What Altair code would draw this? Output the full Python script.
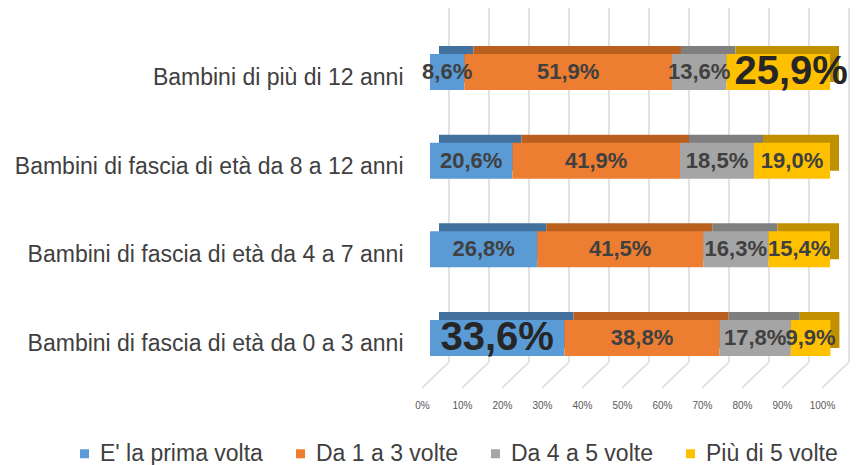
import altair as alt
import pandas as pd

groups = [
    "Bambini di più di 12 anni",
    "Bambini di fascia di età da 8 a 12 anni",
    "Bambini di fascia di età da 4 a 7 anni",
    "Bambini di fascia di età da 0 a 3 anni",
]
series = ["E' la prima volta", "Da 1 a 3 volte", "Da 4 a 5 volte", "Più di 5 volte"]
prima = [8.6, 20.6, 26.8, 33.6]
da1a3 = [51.9, 41.9, 41.5, 38.8]
da4a5 = [13.6, 18.5, 16.3, 17.8]
piu5 = [25.9, 19.0, 15.4, 9.9]
highlight_prima = [False, False, False, True]
highlight_piu5 = [True, False, False, False]
ticks = [0, 10, 20, 30, 40, 50, 60, 70, 80, 90, 100]

front_colors = ["#5B9BD5", "#ED7D31", "#A5A5A5", "#FFC000"]
side_colors = ["#41719C", "#B9601F", "#7F7F7F", "#C09000"]

rows = []
for gi, g in enumerate(groups):
    vals = [prima[gi], da1a3[gi], da4a5[gi], piu5[gi]]
    hl = [highlight_prima[gi], False, False, highlight_piu5[gi]]
    for si, s in enumerate(series):
        rows.append({"group": g, "series": s, "ord": si, "v": vals[si], "big": hl[si]})
df = pd.DataFrame(rows)
tick_df = pd.DataFrame({"t": ticks})

FONT = "Liberation Sans"
GRID = "#D9D9D9"

xscale = alt.Scale(domain=[0, 100])
yscale = alt.Scale(domain=groups, paddingInner=0.593, paddingOuter=0.384)
xaxis = alt.Axis(values=ticks, labelExpr="datum.value + '%'", title=None,
                 grid=False, ticks=False, domain=False, labelFontSize=10,
                 labelColor="#595959", labelFont=FONT, labelPadding=10,
                 labelOffset=-8, labelOverlap=False, labelFlush=False)

base = alt.Chart(df).transform_window(
    cum="sum(v)", groupby=["group"], sort=[{"field": "ord"}]
).transform_calculate(
    start="datum.cum - datum.v",
    mid="datum.cum - datum.v/2",
    label="replace(format(datum.v, '.1f'), '.', ',') + '%'",
)

# back-wall gridlines (3D depth offset)
grid = alt.Chart(tick_df).mark_rule(color=GRID, strokeWidth=1.5, xOffset=19).encode(
    x=alt.X("t:Q", scale=xscale, axis=xaxis),
    y=alt.value(-20),
    y2=alt.value(342),
)

# floor lines (diagonals)
floor = alt.Chart(tick_df).mark_rule(color=GRID, strokeWidth=1.5, xOffset=19, x2Offset=-8).encode(
    x=alt.X("t:Q", scale=xscale, axis=xaxis),
    x2="t:Q",
    y=alt.value(342),
    y2=alt.value(368),
)

back = base.mark_bar(xOffset=9, x2Offset=9, yOffset=-8).encode(
    x=alt.X("start:Q", scale=xscale, axis=xaxis),
    x2="cum:Q",
    y=alt.Y("group:N", scale=yscale),
    color=alt.Color("series:N", scale=alt.Scale(domain=series, range=side_colors), legend=None),
)

front = base.mark_bar().encode(
    x=alt.X("start:Q", scale=xscale, axis=xaxis),
    x2="cum:Q",
    y=alt.Y("group:N", scale=yscale, sort=groups,
            axis=alt.Axis(title=None, ticks=False, domain=False, labelFontSize=23,
                          labelColor="#404040", labelFont=FONT, labelPadding=27,
                          labelOffset=6, labelLimit=500)),
    color=alt.Color("series:N", scale=alt.Scale(domain=series, range=front_colors),
                    legend=alt.Legend(title=None, orient="none", legendX=-357, legendY=422,
                                      direction="horizontal", columns=4, symbolType="square",
                                      symbolSize=81, symbolStrokeWidth=0, labelFontSize=23,
                                      labelFont=FONT, labelColor="#404040", labelLimit=400,
                                      columnPadding=26, labelOffset=4)),
)

text = base.transform_filter("!(datum.big && datum.ord == 3)").mark_text(
    fontWeight="bold", font=FONT).encode(
    x=alt.X("mid:Q", scale=xscale, axis=xaxis),
    y=alt.Y("group:N", scale=yscale),
    text="label:N",
    size=alt.condition("datum.big", alt.value(40), alt.value(22)),
    color=alt.condition("datum.big", alt.value("#262626"), alt.value("#404040")),
)

text_end = base.transform_filter("datum.big && datum.ord == 3").mark_text(
    fontWeight="bold", font=FONT, dx=13, size=40, color="#262626").encode(
    x=alt.X("mid:Q", scale=xscale, axis=xaxis),
    y=alt.Y("group:N", scale=yscale),
    text="label:N",
)

chart = alt.layer(grid, floor, back, front, text, text_end).resolve_scale(color="independent").properties(
    width=400, height=370, autosize="none",
    padding={"left": 422, "top": 12, "right": 21, "bottom": 75},
).configure_view(stroke=None)

chart.save("out.html", embed_options={"renderer": "svg", "actions": False})
